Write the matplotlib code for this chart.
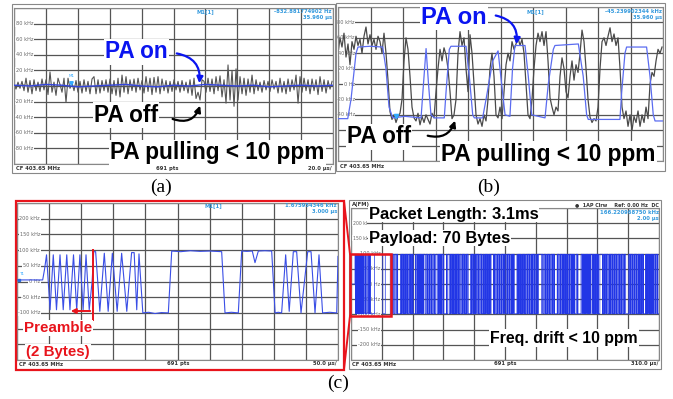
import numpy as np
import matplotlib
matplotlib.use('Agg')
import matplotlib.pyplot as plt
from matplotlib.patches import Rectangle, FancyArrowPatch
from matplotlib.lines import Line2D
from matplotlib import font_manager as fm

# ---------------- data ----------------
# (a) PA on/off, 20 us/div, kHz
a_gray = [2, -4, 5, -3, 6, -6, 10, -8, 7, -10, 8, -6, 5, -7, 9, -5, 8, -11, 18, -8,
          5, -12, 10, 2, -8, 10, -21, 10, -3, 4, -6, 7, -8, 6, -9, 8, -7, 6, -10, 9,
          12, -10, 8, -9, 7, -6, 8, -8, 9, -10, 7, -12, 10, -14, 14, -8, 12, -10, 8, -6,
          9, -8, 10, -5, 7, -9, 12, -7, 10, -11, 11, -8, 12, -10, 9, -6, 7, -9, 6, -7,
          8, -5, 6, -8, 7, -6, 5, -9, 8, -12, 10, -16, -8, -18, 8, 6, -8, 10, -7, 9,
          -10, 12, -6, 13, -14, 8, -22, 27, -18, 20, -26, 22, -18, 12, -10, 10, -12, 9, -8, 14,
          -10, 8, -6, 5, -8, 7, -5, 6, -7, 8, -4, 6, -9, 10, -8, 6, -10, 9, -7, 8,
          -5, 14, -22, 12, -8, 10, -6, 8, -10, 9, -6, 8, -11, 12, -7, 8, -9, 7, -4, 6]
a_blue = [1, 0, 2, 1, -1, 0, 1, 2, 0, -1, 1, 0, 2, 1, 0, 1, -1, 0, 1, 0, 1]
a_ticks = [80, 60, 40, 20, 0, -20, -40, -60, -80]
a_ticklabels = ["80 kHz", "60 kHz", "40 kHz", "20 kHz", "0 Hz", "-20 kHz", "-40 kHz", "-60 kHz", "-80 kHz"]

# (b) blue = PA on, gray = PA off
b_blue_t = [0, 6.0, 8.0, 11.1, 12.3, 19.7, 27.5, 29.5, 31.4, 33.7, 41.2, 51.1, 52.6, 54.2, 55.7,
            57.2, 59.3, 65.4, 66.5, 68.5, 69.5, 78.8, 80.8, 82.9, 83.9, 89.0, 91.1, 95.2, 98.5,
            100.7, 102.8, 105.8, 107.4, 108.9, 115.1, 117.1, 119.2, 127.4, 129.4, 132.5, 133.5,
            147.9, 150.9, 153.0, 154.0, 173.5, 174.6, 176.6, 177.6, 189.9, 192.0, 194.0, 195.1, 200]
b_blue_v = [-45, -45, -20, 40, 48, 49, 48, 20, -30, -44, -42, -44, 0, 46, 0, -40, -44, -44, -10, 45,
            49, 49, 10, -40, -44, -44, -20, 30, 43, 0, -40, -42, 20, 50, 50, 10, -40, -44, 0, 45,
            50, 52, 10, -40, -46, -46, -10, 40, 48, 48, 10, -40, -48, -48]
b_gray = [40, 60, 48, 66, 35, 52, 25, 55, 45, 62, 50, 58, 40, 62, 74, 52, 64, 50, 58, 45,
          62, 55, 40, 66, 40, 5, -36, -46, -40, -50, -42, -38, -20, 30, 60, 45, 10, -30, -44, -48,
          -38, -53, -42, -50, -40, -46, -52, -38, -44, -10, 20, 45, 30, 47, 38, 20, -10, -45, -40, -20,
          40, 68, 50, 60, 20, -10, 64, 40, 0, -40, -52, -45, -55, -40, -48, -20, 20, 40, 10, -40,
          -44, -30, -45, -10, 25, 40, 30, 55, 45, 52, 60, 50, 58, 40, 0, -40, -45, -20, 20, 50,
          66, 55, 68, 50, 68, 30, -18, -30, -40, -30, -35, 10, 34, 20, -10, -18, 10, 30, 5, 25,
          15, 40, 70, 55, 20, -20, -43, -50, -45, -48, -30, 20, 55, 60, 50, 62, 73, 55, 65, 50,
          60, 20, -30, -45, -35, -55, -40, -60, -42, -50, -35, -55, -40, -50, -30, -45, 0, 15, 10, 30,
          45, 40, 48]
b_ticks = [80, 60, 40, 20, 0, -20, -40]
b_ticklabels = ["80 kHz", "60 kHz", "40 kHz", "20 kHz", "0 Hz", "-20 kHz", "-40 kHz"]

# (c) left: zoom on preamble, 50 us/div
cl_t = [0, 40, 43, 46, 51.5, 56.5, 61.5, 67, 72, 77.5, 82.5, 88, 93, 98, 103, 107.5, 112.5,
        117, 119.5, 122.5, 129, 136, 142, 148.5, 156, 163, 171, 178.5, 182.5, 186.5, 190,
        196, 205, 215, 225, 235.7, 241, 255, 270, 285, 300, 318.8, 324, 334, 344.7,
        350, 358, 366.5, 370.7, 375.9, 386, 396.7, 402, 407, 412.2,
        418.5, 424, 430.4, 435.6, 442.4, 452.8, 458, 464.2, 470.4, 476, 487, 498, 500]
cl_v = [5, 5, 40, 85, -90, 85, -90, 85, -90, 85, -90, 85, -90, 85, -90, 85, -90,
        0, 95, 95, -95, 90, -95, 90, -95, 90, -95, 92, 92, -90, 88,
        -100, -98, -102, -99, -100, 97, 95, 98, 96, 97, 95, -100, -98, -100,
        97, 96, 97, 60, 97, 98, 97, -100, -98, -100,
        85, -95, 95, 95, -100, 95, 95, -100, 85, -100, -98, -100, 80]
cl_ticks = [200, 150, 100, 50, 0, -50, -100]
cl_ticklabels = ["200 kHz", "150 kHz", "100 kHz", "50 kHz", "0 Hz", "-50 kHz", "-100 kHz"]

# (c) right: whole packet, 310 us/div
cr_idle_us = 40
cr_bit_us = 5.0
cr_preamble = "1010101010101010"
cr_payload = ("101101001101101" "00000000" "11111111111111111" "00000" "1111111111" "0000"
              "10110011101" "000000"
              "1011010010110100" "1101001011000010" "0100101101001011" "1001101001011010"
              "0110100111001011" "0101101000001001" "1100101101010010" "1011010011001011"
              "0100101100000101" "1010010110110100" "1101001001011010" "0101101111101011"
              "0010110100101101" "1011001011010010" "0101100000100101" "1010010110100110"
              "1101001010110100" "1001011111110110" "0110100101101001" "1011010000010110"
              "0101101011010010" "1001011010110100" "0110100000011011" "0100101101001011"
              "1011010010110100" "0111110100101101" "1001010110100101" "1010011010010110"
              "0101100000011010" "1101001011010010" "1001011010000101" "0110100101101001"
              "10110100")
cr_ticks = [200, 150, 100, 50, 0, -50, -100, -150, -200]
cr_ticklabels = ["200 kl", "150 kl", "100 kHz", "50 kHz", "0 Hz", "-50 kHz", "-100 kHz",
                 "-150 kHz", "-200 kHz"]

# ---------------- helpers ----------------
W, H = 673, 399
fig = plt.figure(figsize=(W / 100, H / 100), dpi=100)
fig.patch.set_facecolor('white')

try:
    fm.findfont(fm.FontProperties(family='Liberation Sans Narrow'), fallback_to_default=False)
    NARROW = ['Liberation Sans Narrow', 'DejaVu Sans']
    nscale = 1.0
except Exception:
    NARROW = ['Liberation Sans', 'DejaVu Sans']
    nscale = 0.82
BOLD = ['Liberation Sans', 'DejaVu Sans']


def fx(px):
    return px / W


def fy(py):
    return 1 - py / H


def add_ax(x0, y0, x1, y1):
    return fig.add_axes([fx(x0), fy(y1), (x1 - x0) / W, (y1 - y0) / H])


def frame(x0, y0, x1, y1, color='#888888', lw=0.8, z=1):
    fig.add_artist(Rectangle((fx(x0), fy(y1)), (x1 - x0) / W, (y1 - y0) / H,
                             transform=fig.transFigure, fill=False, ec=color, lw=lw, zorder=z))


def ftext(px, py, s, **kw):
    kw.setdefault('va', 'center')
    fig.text(fx(px), fy(py), s, **kw)


def big(px, py, s, color='black', size=16.3, family=BOLD, ha='left', pad=1.0):
    ftext(px, py, s, color=color, fontsize=size, fontweight='bold', family=family, ha=ha,
          zorder=10, bbox=dict(fc='white', ec='none', pad=pad))


def small(px, py, s, color='#3399dd', ha='left', size=3.8, bold=True):
    ftext(px, py, s, color=color, fontsize=size, fontweight='bold' if bold else 'normal',
          ha=ha, family=['DejaVu Sans'], zorder=5)


def arrow(p0, p1, color, rad):
    a = FancyArrowPatch((fx(p0[0]), fy(p0[1])), (fx(p1[0]), fy(p1[1])),
                        transform=fig.transFigure, connectionstyle=f'arc3,rad={rad}',
                        arrowstyle='-|>', mutation_scale=9, lw=1.6, color=color, zorder=11)
    fig.add_artist(a)


def setup(ax, xmax, ymax, ndiv=10):
    ax.set_xlim(0, xmax)
    ax.set_ylim(-ymax, ymax)
    ax.set_xticks(np.linspace(0, xmax, ndiv + 1))
    ax.set_yticks(np.linspace(-ymax, ymax, ndiv + 1))
    ax.tick_params(length=0, labelbottom=False, labelleft=False)
    ax.grid(True, color='#555555', lw=0.9)
    ax.set_axisbelow(True)
    for s in ax.spines.values():
        s.set_color('#888888')
        s.set_linewidth(0.8)


def yticklabels(ax, ticks, labels, xr, ha='right', size=3.6):
    for v, lab in zip(ticks, labels):
        ax.text(xr, v, lab, transform=ax.get_yaxis_transform(), ha=ha, va='center',
                fontsize=size, color='#666666', zorder=1.5,
                bbox=dict(fc='white', ec='none', pad=0.3))


# ---------------- panel (a) ----------------
frame(12, 4, 335, 173)
axa = add_ax(14, 8, 333, 164)
setup(axa, 200, 100)
yticklabels(axa, a_ticks, a_ticklabels, 0.06)
axa.plot(np.linspace(0, 199.4, len(a_gray)), a_gray, color='#555555', lw=0.8, zorder=2)
axa.plot(np.linspace(0, 200, len(a_blue)), a_blue, color='#3344dd', lw=1.0, zorder=3)
axa.plot([35.96], [4], marker='v', ms=2.5, color='#33aaff', zorder=4)
axa.text(35.96, 12, 'M1', fontsize=3, color='#33aaff', ha='center', zorder=4)
small(205, 11.5, 'M1[1]', ha='center')
small(332, 11.5, '-832.881774902 Hz', ha='right')
small(332, 18, '35.960 µs', ha='right')
small(16, 168.5, 'CF 403.65 MHz', color='#333333')
small(167, 168.5, '691 pts', color='#333333', ha='center')
small(332, 168.5, '20.0 µs/', color='#333333', ha='right')
big(105, 52, 'PA on', color='#0a14f0')
big(94, 115, 'PA off')
big(110, 153, 'PA pulling < 10 ppm')
arrow((174, 53), (199, 86), '#0a14f0', -0.5)
arrow((170, 118), (201, 103), 'black', 0.55)

# ---------------- panel (b) ----------------
frame(336, 3, 665, 171)
axb = add_ax(338, 7, 663, 161)
setup(axb, 200, 100)
yticklabels(axb, b_ticks, b_ticklabels, 0.052)
axb.plot(np.linspace(0, 199.4, len(b_gray)), b_gray, color='#4a4a4a', lw=0.9, zorder=2)
axb.plot(b_blue_t, b_blue_v, color='#5b6cf0', lw=0.9, zorder=3)
axb.plot([35.96], [-42], marker='v', ms=3, color='#33aaff', zorder=4)
small(535, 11.5, 'M1[1]', ha='center')
small(662, 11.5, '-45.239902344 kHz', ha='right')
small(662, 18, '35.960 µs', ha='right')
small(340, 166, 'CF 403.65 MHz', color='#333333')
big(421, 17, 'PA on', color='#0a14f0', size=17)
big(347, 137, 'PA off')
big(441, 154, 'PA pulling < 10 ppm')
arrow((493, 15), (516, 47), '#0a14f0', -0.5)
arrow((425, 135), (456, 118), 'black', 0.5)

# ---------------- panel (c) left ----------------
axcl = add_ax(17, 203, 338, 360)
setup(axcl, 500, 250)
yticklabels(axcl, cl_ticks, cl_ticklabels, 0.072)
axcl.plot(cl_t, cl_v, color='#3a4ee6', lw=0.8, zorder=3)
axcl.plot([3], [5], marker='s', ms=2, color='#2a6ad8', zorder=4)
axcl.text(3, 20, 'T1', fontsize=3, color='#33aaff', zorder=4)
small(213, 205.5, 'M1[1]', ha='center')
small(337, 205.5, '1.675954346 kHz', ha='right')
small(337, 212, '3.000 µs', ha='right')
small(19, 364, 'CF 403.65 MHz', color='#333333')
small(178, 364, '691 pts', color='#333333', ha='center')
small(337, 364, '50.0 µs/', color='#333333', ha='right')
frame(16, 200.5, 344, 369.5, color='#e8141c', lw=1.6, z=6)
fig.add_artist(Line2D([fx(93), fx(93)], [fy(250), fy(320)], transform=fig.transFigure,
                      color='#e8141c', lw=1.4, zorder=7))
fig.add_artist(FancyArrowPatch((fx(93), fy(311)), (fx(68), fy(311)), transform=fig.transFigure,
                               arrowstyle='-|>', mutation_scale=7, lw=1.4, color='#e8141c',
                               zorder=7))
big(58, 328, 'Preamble', color='#e8141c', size=13.3 * nscale, family=NARROW, ha='center')
big(58, 352, '(2 Bytes)', color='#e8141c', size=13.3 * nscale, family=NARROW, ha='center')

# ---------------- panel (c) right ----------------
frame(349, 200, 661, 369)
axcr = add_ax(351, 208, 659, 360)
setup(axcr, 3100, 250)
yticklabels(axcr, cr_ticks[2:], cr_ticklabels[2:], 0.095)
yticklabels(axcr, cr_ticks[:2], cr_ticklabels[:2], 0.005, ha='left', size=3.3)
bits = np.array([int(c) for c in cr_preamble + cr_payload])
levels = np.where(bits == 1, 98, -98)
edges = cr_idle_us + np.arange(len(bits) + 1) * cr_bit_us
cr_t = np.concatenate([[0], edges])
cr_v = np.concatenate([[0], levels, [levels[-1]]])
axcr.step(cr_t, cr_v, where='post', color='#2236e6', lw=0.5, alpha=1.0, zorder=3)
small(352, 204.5, 'A(FM)', color='#333333')
small(659, 204.5, '●  1AP Clrw    Ref: 0.00 Hz  DC', color='#333333', ha='right', size=3.5)
small(659, 212, '166.220968750 kHz', ha='right')
small(659, 218.5, '2.00 µs', ha='right')
small(352, 364, 'CF 403.65 MHz', color='#333333')
small(505, 364, '691 pts', color='#333333', ha='center')
small(658, 364, '310.0 µs/', color='#333333', ha='right')
big(369, 214, 'Packet Length: 3.1ms', size=15 * nscale * 0.97, family=NARROW, pad=0.5)
big(369, 238, 'Payload: 70 Bytes', size=15 * nscale * 0.97, family=NARROW, pad=0.5)
big(490, 338, 'Freq. drift < 10 ppm', size=14 * nscale, family=NARROW)

# red zoom box and connecting lines
frame(350, 254, 391, 316, color='#e8141c', lw=1.8, z=8)
fig.add_artist(Line2D([fx(344), fx(350)], [fy(201), fy(254)], transform=fig.transFigure,
                      color='#e8141c', lw=1.4, zorder=8))
fig.add_artist(Line2D([fx(350), fx(344)], [fy(316), fy(369)], transform=fig.transFigure,
                      color='#e8141c', lw=1.4, zorder=8))

# ---------------- captions ----------------
SERIF = ['Liberation Serif', 'DejaVu Serif']
ftext(161, 187, '(a)', fontsize=14, family=SERIF, ha='center')
ftext(489, 187, '(b)', fontsize=14, family=SERIF, ha='center')
ftext(338, 383, '(c)', fontsize=14, family=SERIF, ha='center')

fig.savefig('out.png', dpi=100)
